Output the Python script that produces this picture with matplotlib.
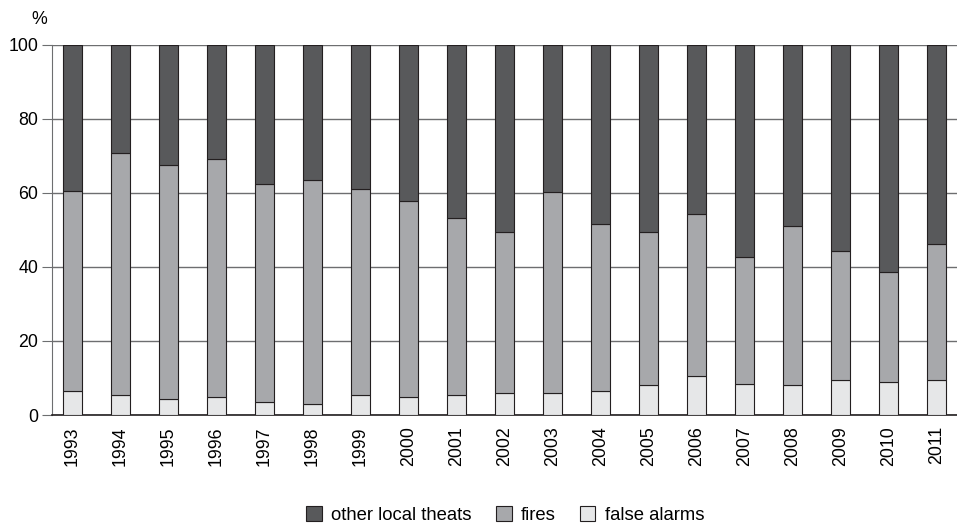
import matplotlib.pyplot as plt
import numpy as np

plt.rcParams['font.family'] = ['Liberation Sans', 'DejaVu Sans']

anyos = [str(a) for a in range(1993, 2012)]
# share of each call type, %
false_alarms = [6.6, 5.3, 4.2, 4.8, 3.6, 2.9, 5.4, 4.9, 5.4, 5.9,
                6.0, 6.5, 8.1, 10.5, 8.4, 8.2, 9.5, 9.0, 9.5]
fires_top = [60.6, 70.8, 67.4, 69.2, 62.5, 63.5, 61.1, 57.9, 53.1, 49.5,
             60.2, 51.5, 49.3, 54.4, 42.8, 51.0, 44.3, 38.5, 46.1]
fires = [t - f for t, f in zip(fires_top, false_alarms)]
other = [100 - t for t in fires_top]

c_other = '#58595b'
c_fires = '#a7a8ab'
c_false = '#e6e7e8'
borde = '#231f20'

fig = plt.figure(figsize=(9.57, 5.23), dpi=100)
ax = fig.add_axes([0.0545, 0.2065, 0.9455, 0.708])

x = np.arange(len(anyos))
ancho = 0.4
b3 = ax.bar(x, false_alarms, ancho, color=c_false, edgecolor=borde, linewidth=0.8, zorder=3)
b2 = ax.bar(x, fires, ancho, bottom=false_alarms, color=c_fires, edgecolor=borde, linewidth=0.8, zorder=3)
b1 = ax.bar(x, other, ancho, bottom=fires_top, color=c_other, edgecolor=borde, linewidth=0.8, zorder=3)

ax.set_ylim(0, 100)
ax.set_xlim(-0.42, 18.42)
ax.set_yticks(range(0, 101, 20))
ax.yaxis.grid(True, color='#6d6e70', linewidth=1.0, zorder=0)
ax.set_axisbelow(True)
ax.set_xticks(x)
ax.set_xticklabels(anyos, rotation=90, fontsize=12.8)
ax.tick_params(axis='y', labelsize=12.8, length=7, color='#6d6e70', direction='out', pad=3)
ax.tick_params(axis='x', length=0, pad=8)

for lado in ['top', 'right']:
    ax.spines[lado].set_visible(False)
ax.spines['left'].set_color('#6d6e70')
ax.spines['bottom'].set_color('#231f20')
ax.spines['bottom'].set_linewidth(1.2)

fig.text(0.033, 0.963, '%', fontsize=12.8, ha='left', va='center')

fig.legend([b1, b2, b3], ['other local theats', 'fires', 'false alarms'],
           loc='lower center', bbox_to_anchor=(0.528, -0.034), ncol=3, frameon=False,
           fontsize=13.3, handlelength=0.85, handleheight=0.85, handletextpad=0.5,
           columnspacing=1.3)

fig.savefig('out.png', dpi=100)
